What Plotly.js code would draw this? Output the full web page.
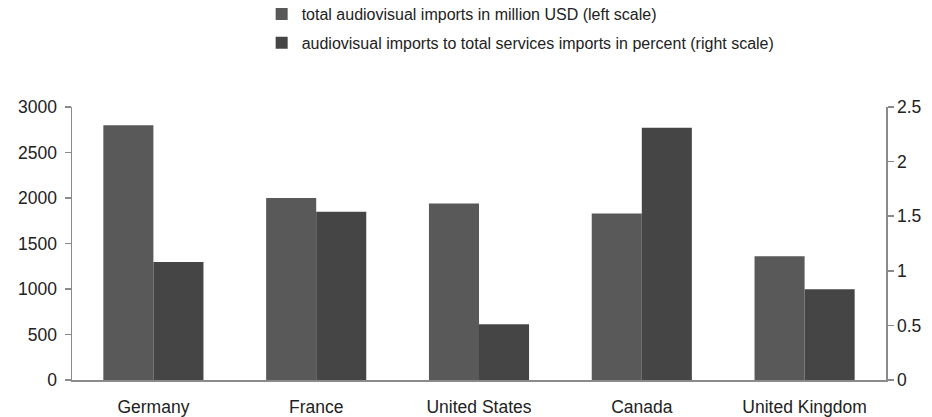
<!DOCTYPE html>
<html>
<head>
<meta charset="utf-8">
<script src="https://cdn.plot.ly/plotly-3.0.1.min.js"></script>
<style>html,body{margin:0;padding:0;background:#fff;}#chart{width:932px;height:417px;}</style>
</head>
<body>
<div id="chart"></div>
<script>
const countries = ["Germany", "France", "United States", "Canada", "United Kingdom"];
const importsMillionUSD = [2800, 2000, 1940, 1830, 1360];
const shareOfServicesPct = [1.08, 1.54, 0.51, 2.31, 0.83];
const leftTicks = [0, 500, 1000, 1500, 2000, 2500, 3000];
const rightTicks = [0, 0.5, 1, 1.5, 2, 2.5];
const seriesNames = [
  "total audiovisual imports in million USD (left scale)",
  "audiovisual imports to total services imports in percent (right scale)"
];

const FONT = "Liberation Sans, Arial, sans-serif";
const axisGrey = "#8a8a8a";

const traces = [
  {
    type: "bar", x: countries, y: importsMillionUSD, name: seriesNames[0],
    yaxis: "y", offsetgroup: "a", legendgroup: "a",
    marker: {color: "#595959", line: {width: 0}},
    hoverinfo: "x+y"
  },
  {
    type: "bar", x: countries, y: shareOfServicesPct, name: seriesNames[1],
    yaxis: "y2", offsetgroup: "b", legendgroup: "b",
    marker: {color: "#454545", line: {width: 0}},
    hoverinfo: "x+y"
  }
];

const layout = {
  width: 932, height: 417,
  margin: {l: 72, r: 46, t: 107, b: 37, pad: 0, autoexpand: false},
  paper_bgcolor: "#ffffff", plot_bgcolor: "#ffffff",
  font: {family: FONT, size: 17.5, color: "#222222"},
  barmode: "group",
  bargap: 0.385, bargroupgap: 0,
  showlegend: true,
  legend: {
    orientation: "v", x: 0.233, xanchor: "left", y: 1.403, yanchor: "top",
    font: {family: FONT, size: 16, color: "#222222"},
    traceorder: "grouped", tracegroupgap: 5,
    bgcolor: "rgba(0,0,0,0)", itemwidth: 30
  },
  xaxis: {
    type: "category", showgrid: false, zeroline: false,
    showline: true, linecolor: axisGrey, linewidth: 1.5,
    ticks: "", ticklabelstandoff: 10,
    tickfont: {family: FONT, size: 17.5, color: "#222222"},
    fixedrange: true
  },
  yaxis: {
    range: [0, 3000], tickvals: leftTicks, ticktext: leftTicks.map(String),
    showgrid: false, zeroline: false,
    showline: true, linecolor: axisGrey, linewidth: 1.5,
    ticks: "outside", ticklen: 6, tickcolor: axisGrey, tickwidth: 1.5,
    ticklabelstandoff: 4,
    tickfont: {family: FONT, size: 17.5, color: "#222222"},
    fixedrange: true
  },
  yaxis2: {
    range: [0, 2.5], tickvals: rightTicks, ticktext: rightTicks.map(String),
    overlaying: "y", side: "right",
    showgrid: false, zeroline: false,
    showline: true, linecolor: axisGrey, linewidth: 1.5,
    ticks: "outside", ticklen: 6, tickcolor: axisGrey, tickwidth: 1.5,
    tickfont: {family: FONT, size: 17.5, color: "#222222"},
    fixedrange: true
  }
};

Plotly.newPlot("chart", traces, layout, {displayModeBar: false, staticPlot: true});
</script>
</body>
</html>
